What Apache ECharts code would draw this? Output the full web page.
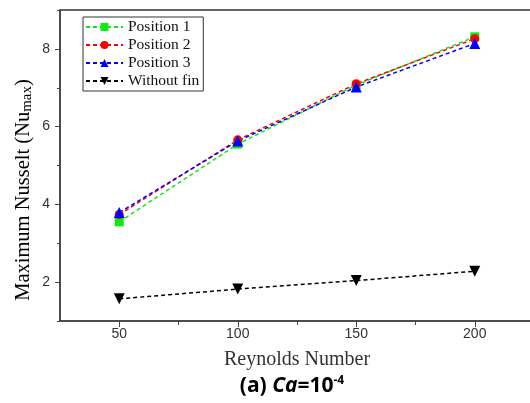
<!DOCTYPE html>
<html>
<head>
<meta charset="utf-8">
<script src="https://cdn.jsdelivr.net/npm/echarts@6/dist/echarts.min.js"></script>
<style>html,body{margin:0;padding:0;background:#fff}#c{width:530px;height:403px}</style>
</head>
<body>
<div id="c"></div>
<script>
const reynolds = [50, 100, 150, 200];
const position1 = [3.55, 5.55, 7.07, 8.31];
const position2 = [3.74, 5.66, 7.10, 8.26];
const position3 = [3.79, 5.63, 7.02, 8.14];
const withoutFin = [1.57, 1.82, 2.04, 2.28];
const xMajorTicks = [50, 100, 150, 200];
const xMinorTicks = [75, 125, 175];
const yMajorTicks = [2, 4, 6, 8];
const yMinorTicks = [1, 3, 5, 7, 9];
const seriesNames = ['Position 1', 'Position 2', 'Position 3', 'Without fin'];

const pairs = vals => reynolds.map((r, i) => [r, vals[i]]);
const chart = echarts.init(document.getElementById('c'), null, {renderer: 'canvas'});
const axisColor = '#444';
const labelFont = {fontFamily: 'Liberation Sans', fontSize: 14, color: '#333'};

function mk(name, vals, color, symbol, size, rotate) {
  return {
    name, type: 'line', data: pairs(vals),
    xAxisIndex: 0, yAxisIndex: 0,
    symbol, symbolSize: size, symbolRotate: rotate || 0,
    lineStyle: {color, width: 1.5, type: [4, 3]},
    itemStyle: {color},
    z: 5
  };
}

chart.setOption({
  animation: false,
  grid: {left: 60, top: 10, width: 474, height: 311, containLabel: false, outerBoundsMode: 'none',
         show: true, borderColor: '#333', borderWidth: 1.5, backgroundColor: 'transparent'},
  legend: {
    orient: 'vertical', left: 83, top: 17,
    data: seriesNames,
    borderColor: '#333', borderWidth: 1, padding: [2, 4, 2, 2],
    itemWidth: 37, itemHeight: 10, itemGap: 2,
    textStyle: {fontFamily: 'Liberation Serif', fontSize: 15.5, color: '#111', lineHeight: 15},
    backgroundColor: '#fff'
  },
  xAxis: [{
    type: 'value', min: 25, max: 225, position: 'bottom',
    name: 'Reynolds Number', nameLocation: 'middle', nameGap: 29,
    nameTextStyle: {fontFamily: 'Liberation Serif', fontSize: 20, color: '#333'},
    axisLine: {show: true, onZero: false, lineStyle: {color: axisColor, width: 1.5}},
    axisTick: {show: true, inside: false, length: 6, customValues: xMajorTicks, lineStyle: {color: axisColor, width: 1}},
    axisLabel: Object.assign({margin: 6, customValues: xMajorTicks}, labelFont),
    splitLine: {show: false}
  }, {
    type: 'value', min: 25, max: 225, position: 'bottom', gridIndex: 0,
    axisLine: {show: false},
    axisTick: {show: true, inside: false, length: 4, customValues: xMinorTicks, lineStyle: {color: axisColor, width: 1}},
    axisLabel: {show: false},
    splitLine: {show: false}
  }],
  yAxis: [{
    type: 'value', min: 1, max: 9, position: 'left',
    axisLine: {show: true, onZero: false, lineStyle: {color: axisColor, width: 1.5}},
    axisTick: {show: true, inside: false, length: 5, customValues: yMajorTicks, lineStyle: {color: axisColor, width: 1}},
    axisLabel: Object.assign({margin: 10, customValues: yMajorTicks}, labelFont),
    splitLine: {show: false}
  }, {
    type: 'value', min: 1, max: 9, position: 'left', gridIndex: 0,
    axisLine: {show: false},
    axisTick: {show: true, inside: false, length: 3, customValues: yMinorTicks, lineStyle: {color: axisColor, width: 1}},
    axisLabel: {show: false},
    splitLine: {show: false}
  }],
  graphic: [{
    type: 'text', x: 24, y: 190, rotation: Math.PI / 2,
    style: {
      text: '{a|Maximum Nusselt (Nu}{s|max}{a|)}',
      align: 'center', verticalAlign: 'middle',
      rich: {
        a: {fontFamily: 'Liberation Serif', fontSize: 20.5, color: '#222'},
        s: {fontFamily: 'Liberation Serif', fontSize: 15, color: '#222', padding: [7, 0, 0, 0]}
      }
    }
  }, {
    type: 'text', x: 292, y: 386,
    style: {
      text: '{b|(a) }{i|Ca}{b|=10}{s|-4}',
      align: 'center', verticalAlign: 'middle',
      rich: {
        b: {fontFamily: 'Open Sans', fontWeight: 'bold', fontSize: 21, color: '#111'},
        i: {fontFamily: 'Open Sans', fontWeight: 'bold', fontStyle: 'italic', fontSize: 21, color: '#111'},
        s: {fontFamily: 'Open Sans', fontWeight: 'bold', fontSize: 12, color: '#111', padding: [0, 0, 11, 0]}
      }
    }
  }],
  series: [
    mk(seriesNames[0], position1, '#12e812', 'rect', 9),
    mk(seriesNames[1], position2, '#ff0000', 'circle', 9),
    mk(seriesNames[2], position3, '#0000ff', 'triangle', 11),
    mk(seriesNames[3], withoutFin, '#000000', 'triangle', 11, 180)
  ]
});
</script>
</body>
</html>
